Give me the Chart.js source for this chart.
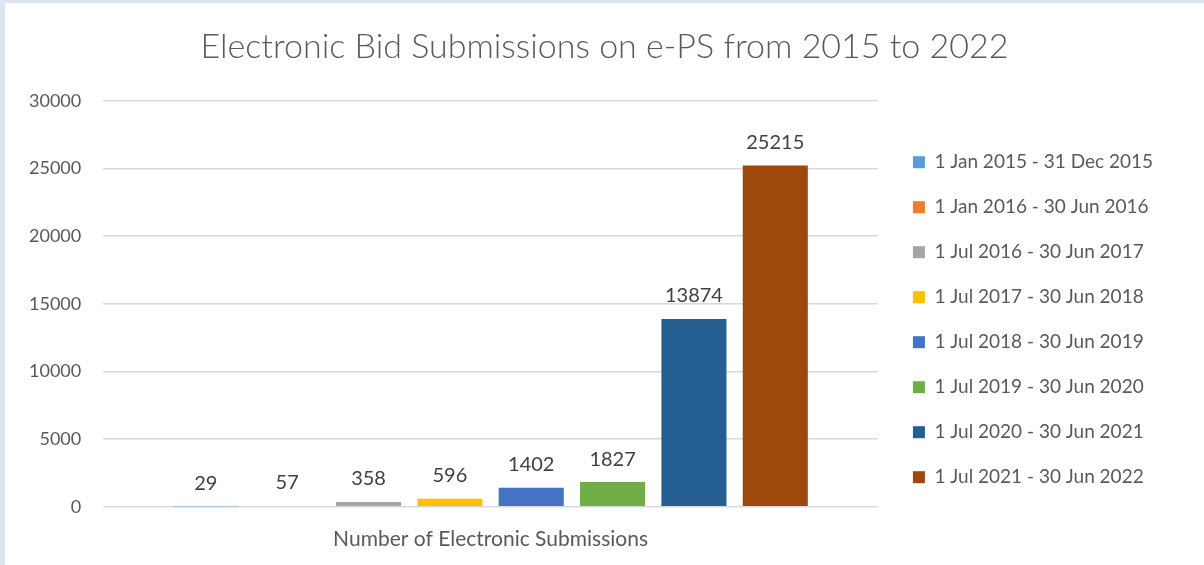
<!DOCTYPE html>
<html>
<head>
<meta charset="utf-8">
<script src="https://cdn.jsdelivr.net/npm/chart.js@4"></script>
<style>
  html, body { margin: 0; padding: 0; background: #fff; }
  body { width: 1204px; height: 565px; box-sizing: border-box; border-left: 5px solid #dce6f2; border-top: 3px solid #dce6f2; }
  #wrap { width: 1199px; height: 562px; }
</style>
</head>
<body>
<div id="wrap"><canvas id="mainChart"></canvas></div>
<script>
// Data
const categories = ["Number of Electronic Submissions"];
const periods = [
    "1 Jan 2015 - 31 Dec 2015",
    "1 Jan 2016 - 30 Jun 2016",
    "1 Jul 2016 - 30 Jun 2017",
    "1 Jul 2017 - 30 Jun 2018",
    "1 Jul 2018 - 30 Jun 2019",
    "1 Jul 2019 - 30 Jun 2020",
    "1 Jul 2020 - 30 Jun 2021",
    "1 Jul 2021 - 30 Jun 2022"
];
const submissions = [29, 57, 358, 596, 1402, 1827, 13874, 25215];
const yTicks = [0, 5000, 10000, 15000, 20000, 25000, 30000];

const colors = ["#5b9bd5", "#ed7d31", "#a5a5a5", "#ffc000", "#4472c4", "#70ad47", "#255e91", "#9e480e"];
const textColor = "#595959";
const fontFamily = "Lato, 'Open Sans', sans-serif";

// Value labels above each bar
const valueLabels = {
    id: "valueLabels",
    afterLayout(chart) {
        // centre the title on the whole canvas, not between the paddings
        const t = chart.titleBlock;
        if (t) { t.left = 0; t.right = chart.width; }
        // leave a wider gap between plot and legend
        const lg = chart.legend;
        if (lg) { lg.left += 9; lg.right += 9; }
    },
    afterDatasetsDraw(chart) {
        const ctx = chart.ctx;
        ctx.save();
        ctx.font = "20px " + fontFamily;
        ctx.fillStyle = "#404040";
        ctx.textAlign = "center";
        ctx.textBaseline = "bottom";
        chart.data.datasets.forEach((ds, i) => {
            const meta = chart.getDatasetMeta(i);
            meta.data.forEach((bar, j) => {
                ctx.fillText(String(ds.data[j]), bar.x, bar.y - 13);
            });
        });
        ctx.restore();
    }
};

const ctx = document.getElementById("mainChart").getContext("2d");
new Chart(ctx, {
    type: "bar",
    data: {
        labels: categories,
        datasets: periods.map((p, i) => ({
            label: p,
            data: [submissions[i]],
            backgroundColor: colors[i],
            barPercentage: 0.8,
            categoryPercentage: 0.84
        }))
    },
    options: {
        responsive: true,
        maintainAspectRatio: false,
        animation: false,
        layout: { padding: { left: 2, right: 50, top: 0, bottom: 1 } },
        plugins: {
            title: {
                display: true,
                text: "Electronic Bid Submissions on e-PS from 2015 to 2022",
                color: textColor,
                font: { family: fontFamily, size: 34, weight: "300" },
                padding: { top: 24, bottom: 33 }
            },
            legend: {
                position: "right",
                title: {
                    display: true,
                    text: " ",
                    font: { size: 12 },
                    padding: { top: 0, bottom: 58 }
                },
                labels: {
                    color: textColor,
                    font: { family: fontFamily, size: 19 },
                    boxWidth: 12,
                    boxHeight: 12,
                    padding: 26
                }
            },
            tooltip: { enabled: false }
        },
        scales: {
            x: {
                grid: { display: false },
                border: { display: false },
                ticks: {
                    color: textColor,
                    font: { family: fontFamily, size: 21 },
                    padding: 12
                }
            },
            y: {
                min: 0,
                max: 30000,
                afterBuildTicks: axis => { axis.ticks = yTicks.map(v => ({ value: v })); },
                grid: { color: "#d9d9d9", lineWidth: 1.5, drawTicks: false },
                border: { display: false },
                ticks: {
                    color: textColor,
                    font: { family: fontFamily, size: 18 },
                    padding: 22,
                    callback: v => String(v)
                }
            }
        }
    },
    plugins: [valueLabels]
});
</script>
</body>
</html>
